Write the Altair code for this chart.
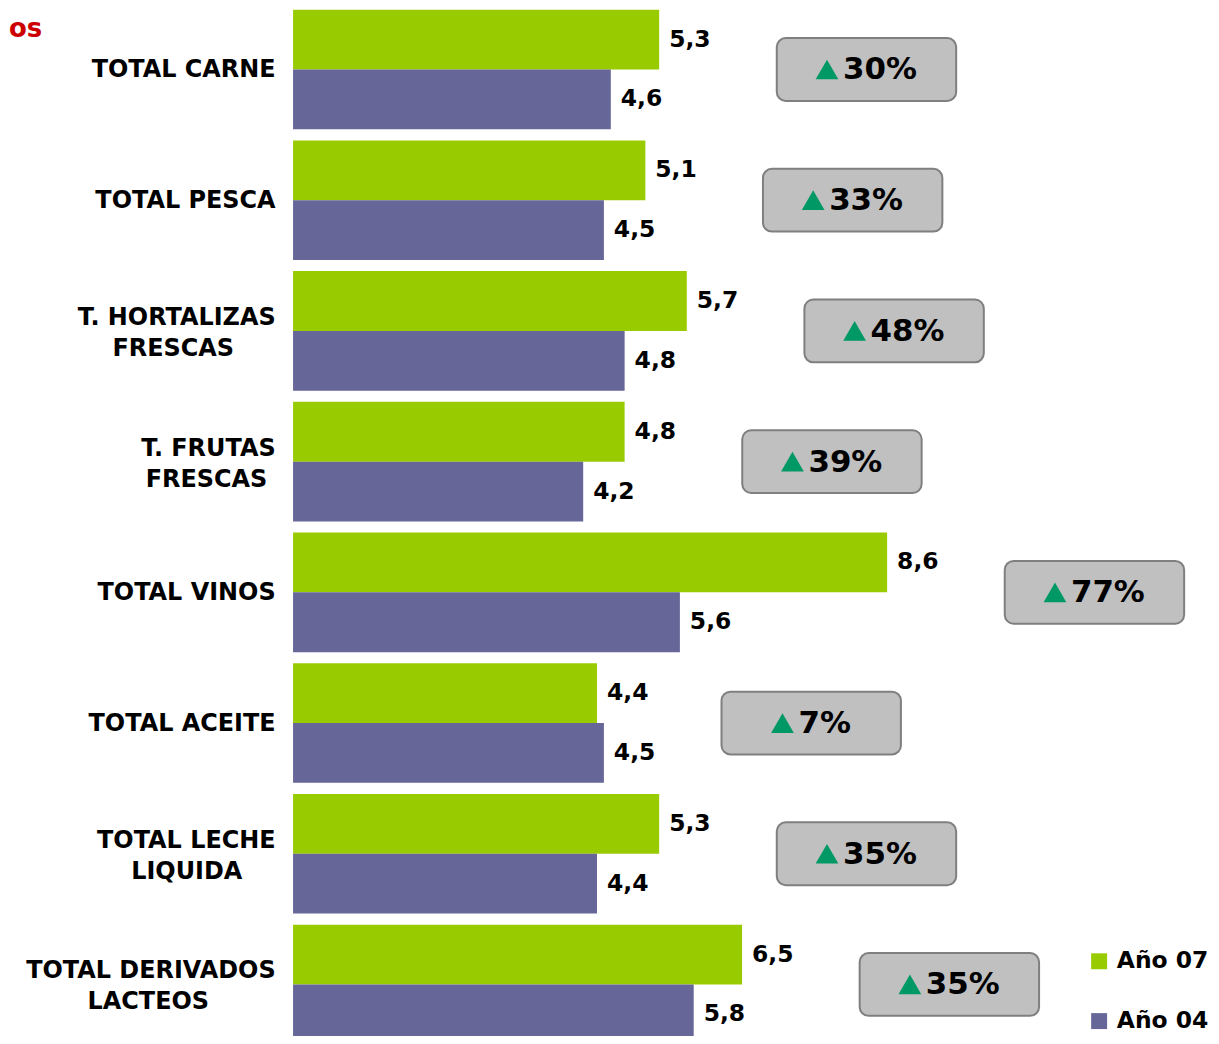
import altair as alt
import pandas as pd

# ---------------- data ----------------
categories = [
    "TOTAL CARNE",
    "TOTAL PESCA",
    "T. HORTALIZAS\nFRESCAS",
    "T. FRUTAS\nFRESCAS",
    "TOTAL VINOS",
    "TOTAL ACEITE",
    "TOTAL LECHE\nLIQUIDA",
    "TOTAL DERIVADOS\nLACTEOS",
]
series = ["Año 07", "Año 04"]
v07 = [5.3, 5.1, 5.7, 4.8, 8.6, 4.4, 5.3, 6.5]
v04 = [4.6, 4.5, 4.8, 4.2, 5.6, 4.5, 4.4, 5.8]
growth = [30, 33, 48, 39, 77, 7, 35, 35]
colors = ["#99cc00", "#666699"]
title_fragment = ["os"]

# ---------------- helpers ----------------
FONT = "DejaVu Sans"
NBSP = "\u00a0"
ZWSP = "\u200b"  # keeps trailing no-break spaces from being trimmed
# approximate DejaVu Sans Bold advance widths (1/1000 em) to centre 2-line labels
GW = {"A": 774, "B": 762, "C": 734, "D": 830, "E": 683, "F": 683, "G": 821, "H": 837,
      "I": 372, "J": 372, "K": 775, "L": 637, "M": 995, "N": 837, "O": 850, "P": 733,
      "Q": 850, "R": 770, "S": 720, "T": 682, "U": 812, "V": 774, "W": 1103, "X": 771,
      "Y": 724, "Z": 725, " ": 348, ".": 380}


def tw(s):
    return sum(GW.get(c, 700) for c in s)


def centred(label):
    lines = label.split("\n")
    if len(lines) == 1:
        return label
    widest = max(tw(l) for l in lines)
    out = []
    for l in lines:
        n = round((widest - tw(l)) / 2 / 348)
        out.append(l + (NBSP * n + ZWSP if n else ""))
    return "\n".join(out)


labels = [centred(c) for c in categories]

bars_df = pd.DataFrame({
    "cat": labels * 2,
    "serie": [series[0]] * len(labels) + [series[1]] * len(labels),
    "valor": v07 + v04,
})
box_df = pd.DataFrame({
    "cat": labels,
    "maxv": [max(a, b) for a, b in zip(v07, v04)],
    "pct": growth,
})

# ---------------- layout constants ----------------
W_PLOT = 901
X_MAX = 13.0
PPU = W_PLOT / X_MAX
GAP_PX = 118
BOX_PX = 180
PCT_FS = 31
TRI_PX = 22
TRI_GAP = 5

xs = alt.Scale(domain=[0, X_MAX], nice=False, zero=True)
y_enc = alt.Y(
    "cat:N",
    sort=labels,
    scale=alt.Scale(domain=labels, range=[0, 1038], paddingInner=0.085, paddingOuter=0),
    axis=alt.Axis(
        title=None, ticks=False, domain=False, grid=False,
        labelPadding=18, labelFont=FONT, labelFontSize=24, labelFontWeight="bold",
        labelColor="black", labelLineHeight=31, labelLimit=400,
        labelExpr="split(datum.label, '\\n')",
        labelOffset={"condition": {"test": "indexof(datum.label, '\\n') >= 0", "value": -13},
                     "value": 1},
    ),
)
yoff = alt.YOffset("serie:N", scale=alt.Scale(domain=series, paddingInner=0, paddingOuter=0))

bars = alt.Chart(bars_df).mark_bar().encode(
    x=alt.X("valor:Q", scale=xs, axis=None),
    y=y_enc,
    yOffset=yoff,
    color=alt.Color(
        "serie:N",
        scale=alt.Scale(domain=series, range=colors),
        legend=alt.Legend(
            title=None, orient="none", legendX=797, legendY=943,
            symbolType="square", symbolSize=256, symbolStrokeWidth=0,
            labelFont=FONT, labelFontSize=23.5, labelFontWeight="bold",
            labelColor="black", labelOffset=6, rowPadding=35, padding=0,
        ),
    ),
)

vals = alt.Chart(bars_df).transform_calculate(
    lbl="replace(format(datum.valor, '.1f'), '.', ',')"
).mark_text(
    align="left", baseline="middle", dx=10, font=FONT, fontSize=23.5,
    fontWeight="bold", color="black",
).encode(
    x=alt.X("valor:Q", scale=xs, axis=None),
    y=y_enc,
    yOffset=yoff,
    text="lbl:N",
)

box_base = alt.Chart(box_df).transform_calculate(
    bx=f"datum.maxv + {GAP_PX / PPU}",
    bx2=f"datum.maxv + {(GAP_PX + BOX_PX) / PPU}",
    bc=f"datum.maxv + {(GAP_PX + BOX_PX / 2) / PPU}",
    plbl="datum.pct + '%'",
).transform_calculate(
    gw=f"{TRI_PX + TRI_GAP} + {PCT_FS} * (0.696 * (length(datum.plbl) - 1) + 1.002)",
).transform_calculate(
    tri_x=f"datum.bc + (-datum.gw / 2 + {TRI_PX / 2}) / {PPU}",
    txt_x=f"datum.bc + (-datum.gw / 2 + {TRI_PX + TRI_GAP}) / {PPU}",
)

boxes = box_base.mark_bar(
    size=63, cornerRadius=9, color="#c0c0c0", stroke="#7f7f7f", strokeWidth=2,
).encode(
    x=alt.X("bx:Q", scale=xs, axis=None),
    x2="bx2:Q",
    y=y_enc,
)

tris = box_base.mark_point(
    shape="triangle-up", size=520, filled=True, color="#009966", opacity=1, strokeWidth=0,
).encode(
    x=alt.X("tri_x:Q", scale=xs, axis=None),
    y=y_enc,
)

pct = box_base.mark_text(
    align="left", baseline="middle", dy=1, font=FONT, fontSize=PCT_FS,
    fontWeight="bold", color="black",
).encode(
    x=alt.X("txt_x:Q", scale=xs, axis=None),
    y=y_enc,
    text="plbl:N",
)

# fragment of a cut-off heading in the top-left corner
heading = alt.Chart(pd.DataFrame({"t": title_fragment})).mark_text(
    align="left", baseline="alphabetic", font=FONT, fontSize=26,
    fontWeight="bold", color="#cc0000",
).encode(
    x=alt.value(-285),
    y=alt.value(27),
    text="t:N",
)

chart = alt.layer(bars, vals, boxes, tris, pct, heading).properties(
    width=W_PLOT,
    height=1028,
    autosize=alt.AutoSizeParams(type="none"),
    padding={"left": 286, "top": 0, "right": 20, "bottom": 0},
).configure_view(stroke=None)

chart.save("out.html", embed_options={"renderer": "svg", "actions": False})
